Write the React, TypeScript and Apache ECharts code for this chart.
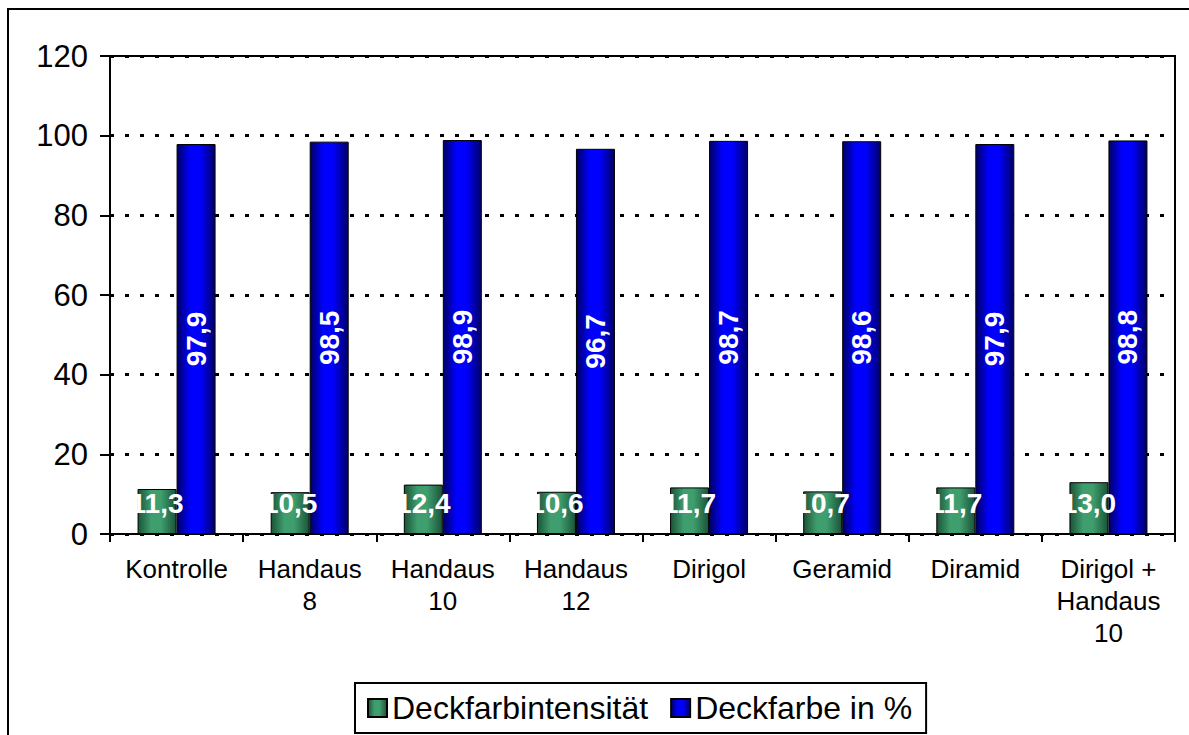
import React, { useEffect, useRef } from "react";
import * as echarts from "echarts";

const categories = [
  "Kontrolle",
  "Handaus\n8",
  "Handaus\n10",
  "Handaus\n12",
  "Dirigol",
  "Geramid",
  "Diramid",
  "Dirigol +\nHandaus\n10",
];
const intensity = [11.3, 10.5, 12.4, 10.6, 11.7, 10.7, 11.7, 13.0];
const coverage = [97.9, 98.5, 98.9, 96.7, 98.7, 98.6, 97.9, 98.8];
const seriesNames = ["Deckfarbintensität", "Deckfarbe in %"];

const FONT = "'Liberation Sans', Arial, sans-serif";

const grad = (edge: string, mid: string) =>
  new echarts.graphic.LinearGradient(0, 0, 1, 0, [
    { offset: 0, color: edge },
    { offset: 0.35, color: mid },
    { offset: 0.6, color: mid },
    { offset: 1, color: edge },
  ]);

const fmt = (v: number) => v.toFixed(1).replace(".", ",");

export default function App() {
  const ref = useRef<HTMLDivElement>(null);
  useEffect(() => {
    if (!ref.current) return;
    const chart = echarts.init(ref.current, undefined, { renderer: "svg" });
    chart.setOption({
      animation: false,
      backgroundColor: "#fff",
      textStyle: { fontFamily: FONT },
      graphic: [
        {
          type: "rect",
          shape: { x: 8, y: 9, width: 1240, height: 800 },
          style: { fill: "none", stroke: "#000", lineWidth: 2 },
          silent: true,
        },
      ],
      grid: {
        left: 110,
        top: 56,
        right: 14,
        bottom: 201,
        show: true,
        borderColor: "#000",
        borderWidth: 2,
        backgroundColor: "transparent",
      },
      legend: {
        left: 355,
        top: 683,
        padding: [9, 14, 9, 12],
        borderColor: "#000",
        borderWidth: 2,
        itemWidth: 19,
        itemHeight: 18,
        itemGap: 22,
        icon: "rect",
        textStyle: { fontSize: 32, color: "#000", fontFamily: FONT },
        data: seriesNames,
      },
      xAxis: {
        type: "category",
        data: categories,
        axisLine: { lineStyle: { color: "#000", width: 2 } },
        axisTick: { show: true, length: 8, lineStyle: { color: "#000", width: 2 } },
        axisLabel: {
          fontSize: 26,
          lineHeight: 32,
          color: "#000",
          margin: 19,
          interval: 0,
          fontFamily: FONT,
        },
      },
      yAxis: {
        type: "value",
        min: 0,
        max: 120,
        interval: 20,
        axisLine: { show: true, lineStyle: { color: "#000", width: 2 } },
        axisTick: { show: true, length: 10, lineStyle: { color: "#000", width: 2 } },
        axisLabel: { fontSize: 31, color: "#000", margin: 22, fontFamily: FONT },
        splitLine: {
          lineStyle: { color: "#000", width: 3, type: [4, 11] },
        },
      },
      series: [
        {
          name: seriesNames[0],
          type: "bar",
          data: intensity,
          barWidth: 39,
          barGap: "0%",
          itemStyle: {
            color: grad("#1b5338", "#3f9e6e"),
            borderColor: "#000",
            borderWidth: 1,
          },
          label: {
            show: true,
            position: "insideBottom",
            distance: 17,
            color: "#fff",
            fontWeight: "bold",
            fontSize: 28,
            fontFamily: FONT,
            formatter: (p: any) => fmt(p.value),
          },
        },
        {
          name: seriesNames[1],
          type: "bar",
          data: coverage,
          barWidth: 39,
          itemStyle: {
            color: grad("#000066", "#0000ff"),
            borderColor: "#000",
            borderWidth: 1,
          },
          label: {
            show: true,
            position: "inside",
            rotate: 90,
            color: "#fff",
            fontWeight: "bold",
            fontSize: 28,
            fontFamily: FONT,
            formatter: (p: any) => fmt(p.value),
          },
        },
      ],
    });
    return () => chart.dispose();
  }, []);
  return (
    <div
      ref={ref}
      style={{ position: "fixed", left: 0, top: 0, width: 1189, height: 735 }}
    />
  );
}
